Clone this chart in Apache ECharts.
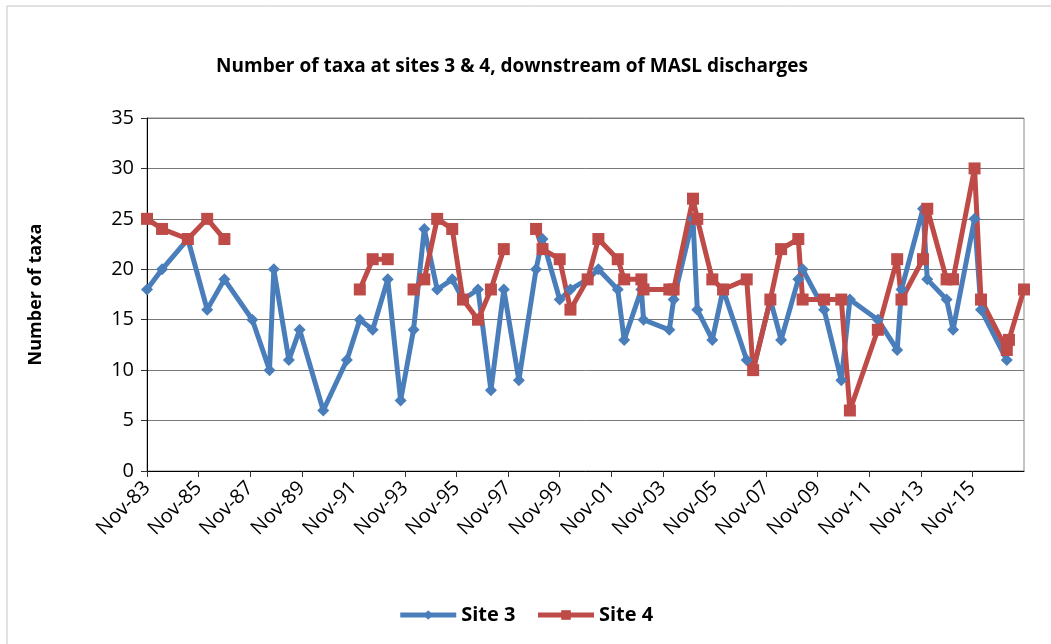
<!DOCTYPE html>
<html>
<head>
<meta charset="utf-8">
<title>Number of taxa at sites 3 & 4</title>
<script src="https://cdn.jsdelivr.net/npm/echarts@6/dist/echarts.min.js"></script>
<style>
  html, body { margin: 0; padding: 0; background: #fff; }
  #chart { width: 1051px; height: 644px; }
</style>
</head>
<body>
<div id="chart"></div>
<script>
// sampling dates (year-month) shared by both sites
var dates = [
  '1983-11', '1984-06', '1985-06', '1986-03', '1986-11', '1987-12', '1988-08', '1988-10',
  '1989-05', '1989-10', '1990-09', '1991-08', '1992-02', '1992-08', '1993-03', '1993-09',
  '1994-03', '1994-08', '1995-02', '1995-09', '1996-02', '1996-09', '1997-03', '1997-09',
  '1998-04', '1998-12', '1999-03', '1999-11', '2000-04', '2000-12', '2001-05', '2002-02',
  '2002-05', '2003-01', '2003-02', '2004-02', '2004-04', '2005-01', '2005-03', '2005-10',
  '2006-03', '2007-02', '2007-05', '2008-01', '2008-06', '2009-02', '2009-04', '2010-02',
  '2010-10', '2011-02', '2012-03', '2012-12', '2013-02', '2013-12', '2014-02', '2014-11',
  '2015-02', '2015-12', '2016-03', '2017-03', '2017-04', '2017-11'
];
var site3 = [
  18, 20, 23, 16, 19, 15, 10, 20,
  11, 14, 6, 11, 15, 14, 19, 7,
  14, 24, 18, 19, 17, 18, 8, 18,
  9, 20, 23, 17, 18, 19, 20, 18,
  13, 18, 15, 14, 17, 25, 16, 13,
  18, 11, 10, 17, 13, 19, 20, 16,
  9, 17, 15, 12, 18, 26, 19, 17,
  14, 25, 16, 11, null, null
];
var site4 = [
  25, 24, 23, 25, 23, null, null, null,
  null, null, null, null, 18, 21, 21, null,
  18, 19, 25, 24, 17, 15, 18, 22,
  null, 24, 22, 21, 16, 19, 23, 21,
  19, 19, 18, 18, 18, 27, 25, 19,
  18, 19, 10, 17, 22, 23, 17, 17,
  17, 6, 14, 21, 17, 21, 26, 19,
  19, 30, 17, 12, 13, 18
];
var monthNames = ['Jan','Feb','Mar','Apr','May','Jun','Jul','Aug','Sep','Oct','Nov','Dec'];

// months counted from Nov-83 (axis starts there)
function monthIndex(s) {
  var p = s.split('-');
  return (parseInt(p[0], 10) - 1983) * 12 + (parseInt(p[1], 10) - 1) - 10;
}
function toPairs(vals) {
  return dates.map(function (d, i) { return [monthIndex(d), vals[i]]; });
}

var myChart = echarts.init(document.getElementById('chart'));
var font = '"Open Sans", "Noto Sans", sans-serif';

myChart.setOption({
  animation: false,
  textStyle: { fontFamily: font },
  title: {
    text: 'Number of taxa at sites 3 & 4, downstream of MASL discharges',
    left: 507,
    textAlign: 'center',
    top: 52,
    textStyle: { fontSize: 19, fontWeight: 'bold', color: '#000', fontFamily: font }
  },
  graphic: [{
    type: 'rect',
    shape: { x: 7, y: 6, width: 1100, height: 700 },
    style: { fill: 'none', stroke: '#c4c4c4', lineWidth: 1 },
    silent: true
  }],
  legend: {
    bottom: 14,
    left: 'center',
    itemWidth: 56,
    itemHeight: 12,
    itemGap: 20,
    lineStyle: { width: 5 },
    textStyle: { fontSize: 20, fontWeight: 'bold', color: '#000', fontFamily: font },
    data: ['Site 3', 'Site 4']
  },
  grid: {
    left: 147, top: 118, right: 27, bottom: 173,
    show: true, borderColor: '#888', borderWidth: 1
  },
  xAxis: {
    type: 'value',
    min: 0,
    max: 408,
    interval: 24,
    axisLine: { lineStyle: { color: '#000', width: 1 } },
    axisTick: { show: true, length: 6, lineStyle: { color: '#333' } },
    splitLine: { show: false },
    axisLabel: {
      rotate: 45,
      fontSize: 20,
      color: '#000',
      margin: 14,
      showMaxLabel: false,
      formatter: function (v) {
        var y = 1983 + Math.floor((10 + v) / 12);
        return monthNames[(10 + v) % 12] + '-' + String(y).slice(2);
      }
    }
  },
  yAxis: {
    type: 'value',
    min: 0,
    max: 35,
    interval: 5,
    name: 'Number of taxa',
    nameLocation: 'middle',
    nameGap: 102,
    nameTextStyle: { fontSize: 18, fontWeight: 'bold', color: '#000', fontFamily: font },
    axisLine: { show: true, lineStyle: { color: '#000', width: 1 } },
    axisTick: { show: true, length: 6, lineStyle: { color: '#333' } },
    splitLine: { lineStyle: { color: '#777', width: 1 } },
    axisLabel: { fontSize: 20, color: '#000', margin: 13 }
  },
  series: [
    {
      name: 'Site 3',
      type: 'line',
      data: toPairs(site3),
      connectNulls: false,
      symbol: 'diamond',
      symbolSize: 12,
      itemStyle: { color: '#4a7ebb' },
      lineStyle: { width: 5, color: '#4a7ebb' }
    },
    {
      name: 'Site 4',
      type: 'line',
      data: toPairs(site4),
      connectNulls: false,
      symbol: 'rect',
      symbolSize: 12,
      itemStyle: { color: '#be4b48' },
      lineStyle: { width: 5, color: '#be4b48' }
    }
  ]
});
</script>
</body>
</html>
